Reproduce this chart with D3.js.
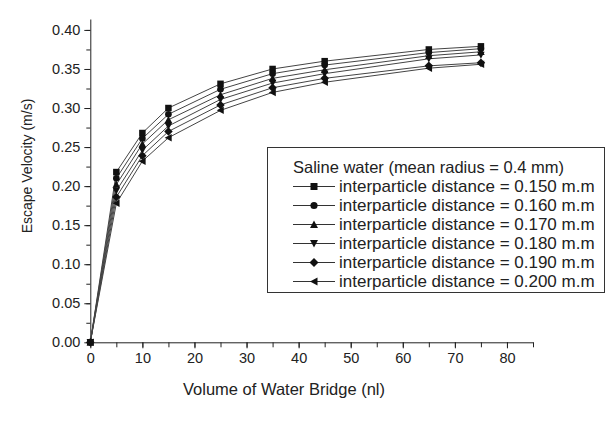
<!DOCTYPE html>
<html><head><meta charset="utf-8">
<script src="https://cdn.jsdelivr.net/npm/d3@7"></script>
<style>body{margin:0;background:#fff}svg{display:block}text{font-family:"Liberation Sans",Arial,sans-serif;fill:#222}</style>
</head><body><svg id="c" width="609" height="431"></svg>
<script>
const volumes = [0, 5, 10, 15, 25, 35, 45, 65, 75];
const d150 = [0, 0.218, 0.268, 0.300, 0.331, 0.350, 0.360, 0.375, 0.379];
const d160 = [0, 0.210, 0.261, 0.292, 0.324, 0.344, 0.355, 0.371, 0.376];
const d170 = [0, 0.202, 0.254, 0.285, 0.317, 0.338, 0.349, 0.367, 0.372];
const d180 = [0, 0.194, 0.246, 0.277, 0.311, 0.332, 0.344, 0.363, 0.368];
const d190 = [0, 0.186, 0.239, 0.270, 0.304, 0.326, 0.338, 0.354, 0.358];
const d200 = [0, 0.178, 0.232, 0.262, 0.297, 0.320, 0.333, 0.351, 0.356];
const seriesNames = ["interparticle distance = 0.150 m.m","interparticle distance = 0.160 m.m","interparticle distance = 0.170 m.m","interparticle distance = 0.180 m.m","interparticle distance = 0.190 m.m","interparticle distance = 0.200 m.m"];
const seriesValues = [d150, d160, d170, d180, d190, d200];
const markerKinds = ["square","circle","triUp","triDown","diamond","triLeft"];
const legendTitle = "Saline water (mean radius = 0.4 mm)";
const xTicks = [0,10,20,30,40,50,60,70,80];
const yTicks = [0,0.05,0.10,0.15,0.20,0.25,0.30,0.35,0.40];

const svg = d3.select("#c");
const x = d3.scaleLinear().domain([0,85]).range([90.3,533]);
const y = d3.scaleLinear().domain([0,0.414]).range([342.3,19]);

function markerPath(kind, s){
  const h=s/2;
  switch(kind){
    case "square": return `M${-h},${-h}H${h}V${h}H${-h}Z`;
    case "circle": return d3.symbol(d3.symbolCircle, Math.PI*h*h*1.05)();
    case "triUp": return `M0,${-h-0.5}L${h+0.5},${h}L${-h-0.5},${h}Z`;
    case "triDown": return `M0,${h+0.5}L${h+0.5},${-h}L${-h-0.5},${-h}Z`;
    case "diamond": return `M0,${-h-1}L${h+1},0L0,${h+1}L${-h-1},0Z`;
    case "triLeft": return `M${-h-0.5},0L${h},${-h-0.5}L${h},${h+0.5}Z`;
  }
}

// axes
svg.append("g").attr("transform",`translate(0,${y(0)})`)
  .call(d3.axisBottom(x).tickValues(d3.range(0,86,5)).tickSize(5).tickFormat(""))
  .call(g=>g.select(".domain").remove());
svg.append("g").attr("transform",`translate(0,${y(0)})`)
  .call(d3.axisBottom(x).tickValues(xTicks).tickSize(6).tickSizeOuter(0).tickPadding(4))
  .call(g=>g.selectAll("text").attr("font-size",14.5).attr("fill","#222"));
svg.append("g").attr("transform",`translate(${x(0)},0)`)
  .call(d3.axisLeft(y).tickValues(d3.range(0,0.42,0.025)).tickSize(4).tickFormat(""))
  .call(g=>g.select(".domain").remove());
svg.append("g").attr("transform",`translate(${x(0)},0)`)
  .call(d3.axisLeft(y).tickValues(yTicks).tickSize(6).tickSizeOuter(0).tickPadding(4).tickFormat(d3.format(".2f")))
  .call(g=>g.selectAll("text").attr("font-size",14.5).attr("fill","#222"));
svg.selectAll(".domain,.tick line").attr("stroke","#222").attr("stroke-width",1);

svg.append("text").attr("x",284).attr("y",395).attr("text-anchor","middle").attr("font-size",16.5).text("Volume of Water Bridge (nl)");
svg.append("text").attr("transform","translate(32,166) rotate(-90)").attr("text-anchor","middle").attr("font-size",14).text("Escape Velocity (m/s)");

// series
const line = d3.line().x((d,i)=>x(volumes[i])).y(d=>y(d));
seriesValues.forEach((vals,k)=>{
  svg.append("path").attr("d",line(vals)).attr("fill","none").attr("stroke","#444").attr("stroke-width",1);
});
seriesValues.forEach((vals,k)=>{
  svg.append("g").selectAll("path").data(vals).join("path")
    .attr("transform",(d,i)=>`translate(${x(volumes[i])},${y(d)})`)
    .attr("d",markerPath(markerKinds[k],6.5)).attr("fill","#111");
});

// legend
const lg = svg.append("g");
lg.append("rect").attr("x",267.5).attr("y",147.5).attr("width",337).attr("height",145).attr("fill","#fff").attr("stroke","#333");
lg.append("text").attr("x",293).attr("y",173).attr("font-size",16.5).text(legendTitle);
seriesNames.forEach((n,k)=>{
  const cy = 186.5 + k*19;
  lg.append("line").attr("x1",293).attr("x2",335).attr("y1",cy).attr("y2",cy).attr("stroke","#333");
  lg.append("path").attr("transform",`translate(314,${cy})`).attr("d",markerPath(markerKinds[k],7)).attr("fill","#111");
  lg.append("text").attr("x",339).attr("y",cy+5.5).attr("font-size",17).text(n);
});
</script></body></html>
